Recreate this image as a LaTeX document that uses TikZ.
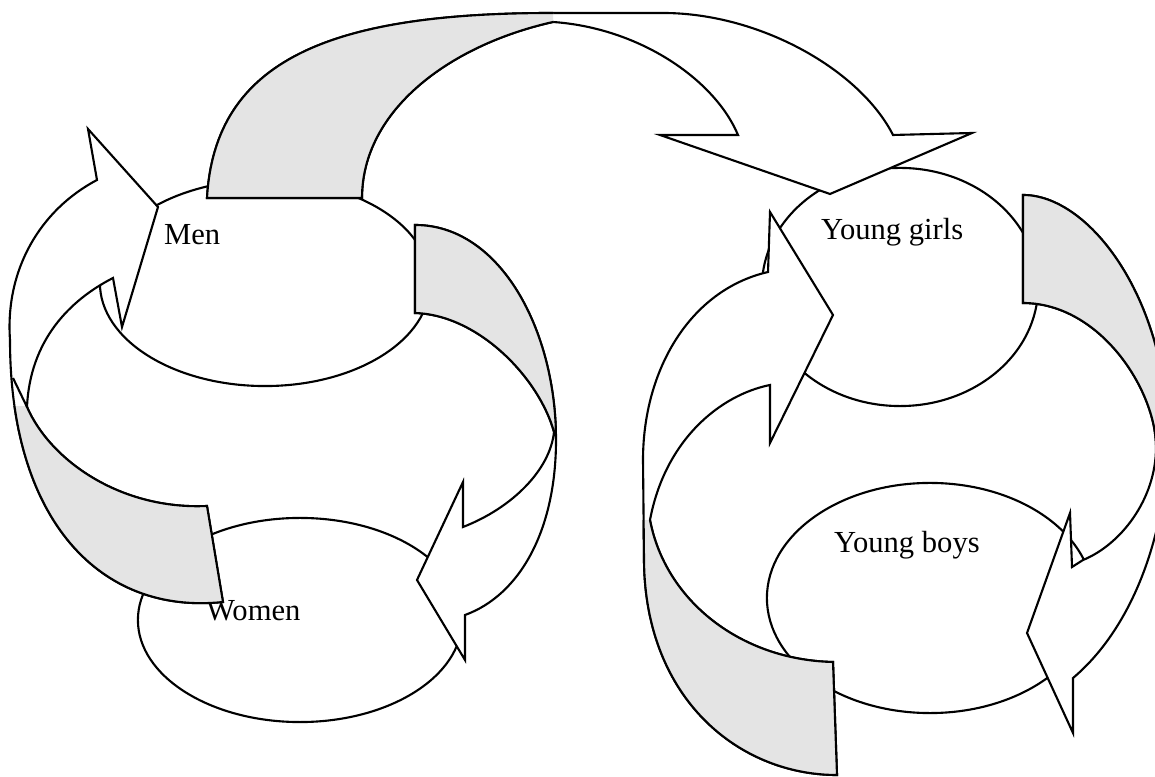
\documentclass[tikz,border=0pt]{standalone}
\usepackage{fontspec}
\setmainfont{Liberation Serif}
\usetikzlibrary{shapes.geometric}
\definecolor{shadegray}{RGB}{228,228,228}
\newcommand*\ArrowApath{(207,198) .. controls (215,60) and (330,13) .. (553,13) -- (663,13) .. controls (760,13) and (860,70) .. (893,135) -- (972,133) -- (830,194) -- (660,135) -- (738,135) .. controls (715,80) and (640,28) .. (553,22) .. controls (450,45) and (362,110) .. (362,198) -- cycle}
\newcommand*\ArrowBpath{(158,207) -- (88,129) -- (97,180) .. controls (40,210) and (5,270) .. (10,340) .. controls (10,520) and (100,615) .. (223,602) -- (207,506) .. controls (120,510) and (50,460) .. (27,407) .. controls (30,340) and (70,300) .. (113,278) -- (122,327) -- cycle}
\newcommand*\ArrowCpath{(415,225) .. controls (500,225) and (556,330) .. (556,440) .. controls (556,530) and (520,595) .. (465,615) -- (465,660) -- (417,580) -- (463,482) -- (463,527) .. controls (512,508) and (550,470) .. (554,432) .. controls (540,380) and (480,315) .. (415,313) -- cycle}
\newcommand*\ArrowDpath{(1023,195) .. controls (1090,195) and (1168,300) .. (1168,440) .. controls (1166,540) and (1130,630) .. (1073,678) -- (1073,733) -- (1027,633) -- (1070,513) -- (1072,567) -- (1083,560) .. controls (1120,545) and (1156,500) .. (1156,447) .. controls (1156,390) and (1100,303) .. (1023,303) -- cycle}
\newcommand*\ArrowEpath{(833,662) -- (837,775) .. controls (740,775) and (645,700) .. (644,560) -- (643,460) .. controls (643,370) and (690,290) .. (768,272) -- (770,212) -- (833,315) -- (770,443) -- (770,385) .. controls (720,395) and (665,440) .. (650,520) .. controls (665,600) and (740,660) .. (833,662) -- cycle}
\begin{document}
\begin{tikzpicture}[x=0.01cm,y=-0.01cm, line width=0.6pt,
  bubble/.style={ellipse, draw, inner sep=0pt, outer sep=0pt},
  lbl/.style={font=\fontsize{8.7pt}{10pt}\selectfont, inner sep=0pt, anchor=base west},
  band/.style={draw, fill=white},
  backside/.style={draw, fill=shadegray}]
\useasboundingbox (0,0) rectangle (1155,777);
\clip (0,0) rectangle (1155,777);
% groups
\node[bubble, minimum width=3.30cm, minimum height=2.06cm] (men) at (265,283) {};
\node[bubble, minimum width=3.24cm, minimum height=2.04cm] (women) at (300,620) {};
\node[bubble, minimum width=2.76cm, minimum height=2.38cm] (girls) at (900,287) {};
\node[bubble, minimum width=3.26cm, minimum height=2.30cm] (boys) at (930,598) {};
\node[lbl] (menlabel) at (163,245) {Men};
\node[lbl] (womenlabel) at (205,621) {Women};
\node[lbl] (girlslabel) at (820,240) {Young girls};
\node[lbl] (boyslabel) at (833,553) {Young boys};
% arrow A: men -> young girls
\filldraw[band] \ArrowApath;
\begin{scope}\clip (150,0) rectangle (553,250); \filldraw[backside] \ArrowApath; \end{scope}
% arrow B: women -> men
\filldraw[band] \ArrowBpath;
\begin{scope}\clip (-20,407) rectangle (300,700); \filldraw[backside] \ArrowBpath; \end{scope}
\draw (27,407) -- (13,378);
% arrow C: men -> women
\filldraw[band] \ArrowCpath;
\begin{scope}\clip (380,150) rectangle (600,432); \filldraw[backside] \ArrowCpath; \end{scope}
% arrow D: young girls -> young boys
\filldraw[band] \ArrowDpath;
\begin{scope}\clip (1000,150) rectangle (1200,445); \filldraw[backside] \ArrowDpath; \end{scope}
% arrow E: young boys -> young girls
\filldraw[band] \ArrowEpath;
\begin{scope}\clip (600,521) rectangle (900,800); \filldraw[backside] \ArrowEpath; \end{scope}
\end{tikzpicture}
\end{document}
